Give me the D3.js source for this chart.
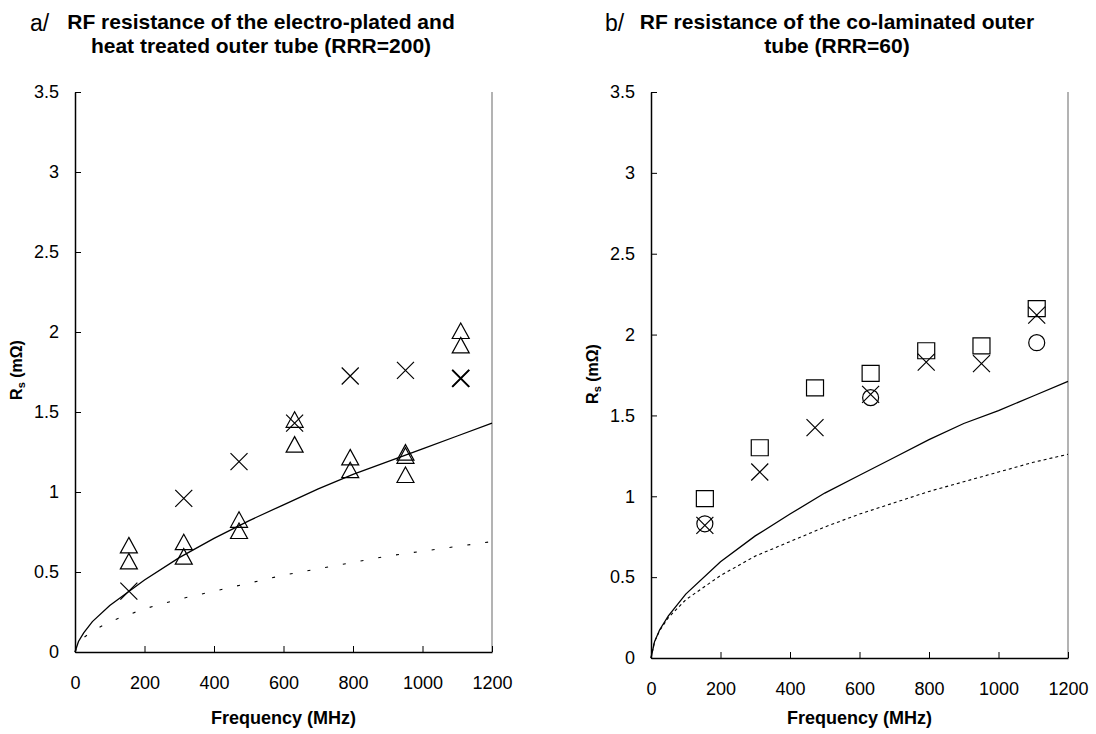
<!DOCTYPE html>
<html>
<head>
<meta charset="utf-8">
<script src="https://cdn.jsdelivr.net/npm/d3@7"></script>
<style>
  body { margin: 0; background: #fff; }
  svg { font-family: "Liberation Sans", Arial, sans-serif; }
</style>
</head>
<body>
<svg id="chart" width="1096" height="734"></svg>
<script>
// measured frequencies (MHz), same for both tubes
var freqs = [155, 313, 472, 632, 792, 951, 1110];

// a/ electro-plated tube (RRR=200)
var aTriUpper = [0.66, 0.68, 0.82, 1.445, 1.21, 1.24, 2.00];
var aTriLower = [0.56, 0.59, 0.75, 1.29, 1.13, 1.10, 1.91];
var aTriExtra = [null, null, null, null, null, 1.22, null];
var aCross    = [0.38, 0.96, 1.19, 1.43, 1.725, 1.76, 1.71];
var aCrossBold = [null, null, null, null, null, null, 1.71];

// b/ co-laminated tube (RRR=60)
var bSquare = [0.985, 1.30, 1.67, 1.76, 1.90, 1.93, 2.16];
var bCross  = [0.82, 1.15, 1.425, 1.63, 1.83, 1.82, 2.12];
var bCircle = [0.83, null, null, 1.61, null, null, 1.95];

// theory curves
var curveFreq = [0, 10, 25, 50, 100, 200, 300, 400, 500, 600, 700, 800, 900, 1000, 1100, 1200];
var aSolid  = [0, 0.066, 0.12, 0.19, 0.29, 0.45, 0.59, 0.71, 0.82, 0.92, 1.02, 1.11, 1.19, 1.27, 1.35, 1.43];
var aDotted = [0, 0.05, 0.09, 0.13, 0.19, 0.27, 0.33, 0.38, 0.43, 0.48, 0.52, 0.56, 0.60, 0.63, 0.66, 0.69];
var bSolid  = [0, 0.10, 0.175, 0.26, 0.395, 0.595, 0.755, 0.89, 1.02, 1.13, 1.24, 1.35, 1.45, 1.53, 1.62, 1.71];
var bDotted = [0, 0.10, 0.17, 0.25, 0.36, 0.51, 0.63, 0.72, 0.81, 0.89, 0.96, 1.03, 1.09, 1.15, 1.21, 1.26];

var xTicks = [0, 200, 400, 600, 800, 1000, 1200];
var yTicks = [0, 0.5, 1, 1.5, 2, 2.5, 3, 3.5];

var svg = d3.select("#chart");

function pairs(vals) { // join values with frequencies, skip gaps
  return freqs.map(function(f, i){ return [f, vals[i]]; })
    .filter(function(d){ return d[1] != null; });
}

function drawPanel(p) {
  var x = d3.scaleLinear().domain([0, 1200]).range([p.left, p.right]);
  var y = d3.scaleLinear().domain([0, 3.5]).range([p.bottom, p.top]);
  var g = svg.append("g");

  // right border of plot area
  g.append("line").attr("x1", p.right).attr("x2", p.right)
    .attr("y1", p.top).attr("y2", p.bottom)
    .attr("stroke", "#808080").attr("stroke-width", 1.2);

  var xAxis = g.append("g").attr("transform", "translate(0," + p.bottom + ")")
    .call(d3.axisBottom(x).tickValues(xTicks).tickSizeInner(-6).tickSizeOuter(0).tickPadding(24)
      .tickFormat(d3.format("d")));
  var yAxis = g.append("g").attr("transform", "translate(" + p.left + ",0)")
    .call(d3.axisLeft(y).tickValues(yTicks).tickSizeInner(-6).tickSizeOuter(0).tickPadding(16)
      .tickFormat(d3.format("")));
  [xAxis, yAxis].forEach(function(a){
    a.select(".domain").attr("stroke", "#000").attr("stroke-width", 1.5);
    a.selectAll(".tick line").attr("stroke", "#000");
    a.selectAll(".tick text").attr("font-size", 18).attr("fill", "#000")
      .attr("font-family", "Liberation Sans, Arial, sans-serif");
  });

  // curves
  var line = d3.line().x(function(d){ return x(d[0]); }).y(function(d){ return y(d[1]); });
  g.append("path").datum(curveFreq.map(function(f, i){ return [f, p.dotted[i]]; }))
    .attr("d", line).attr("fill", "none").attr("stroke", "#000")
    .attr("stroke-width", 1.1).attr("stroke-dasharray", p.dash);
  g.append("path").datum(curveFreq.map(function(f, i){ return [f, p.solid[i]]; }))
    .attr("d", line).attr("fill", "none").attr("stroke", "#000").attr("stroke-width", 1.3);

  // markers
  p.markers.forEach(function(m) {
    g.append("g").selectAll("path").data(pairs(m.vals)).enter().append("path")
      .attr("transform", function(d){ return "translate(" + x(d[0]) + "," + y(d[1]) + ")"; })
      .attr("fill", "none").attr("stroke", "#000").attr("stroke-width", m.width || 1.2)
      .attr("d", markerPath(m.shape));
  });

  // axis titles
  g.append("text").attr("x", (p.left + p.right) / 2).attr("y", p.xLabelY)
    .attr("text-anchor", "middle").attr("font-weight", "bold").attr("font-size", 18)
    .text("Frequency (MHz)");
  var yl = g.append("text").attr("transform", "translate(" + p.yLabelX + "," + p.yLabelMid + ") rotate(-90)")
    .attr("text-anchor", "middle").attr("font-weight", "bold").attr("font-size", 16);
  yl.append("tspan").text("R");
  yl.append("tspan").attr("font-size", 11).attr("dy", 3).text("s");
  yl.append("tspan").attr("dy", -3).text(" (m\u03A9)");

  // chart title
  svg.append("text").attr("x", p.tagX).attr("y", 31).attr("font-size", 23).text(p.tag);
  p.title.forEach(function(t, i){
    svg.append("text").attr("x", p.titleMid).attr("y", 29 + i * 24)
      .attr("text-anchor", "middle").attr("font-weight", "bold").attr("font-size", 21).text(t);
  });
}

function markerPath(shape) {
  var pth = d3.path();
  if (shape === "tri") {
    pth.moveTo(0, -9); pth.lineTo(8.5, 6.5); pth.lineTo(-8.5, 6.5); pth.closePath();
  } else if (shape === "x") {
    pth.moveTo(-8.5, -8.5); pth.lineTo(8.5, 8.5); pth.moveTo(8.5, -8.5); pth.lineTo(-8.5, 8.5);
  } else if (shape === "sq") {
    pth.rect(-8.5, -8, 17, 16);
  } else if (shape === "circ") {
    pth.moveTo(8, 0); pth.arc(0, 0, 8, 0, 2 * Math.PI);
  }
  return pth.toString();
}

drawPanel({
  left: 75, right: 492, top: 92, bottom: 652,
  solid: aSolid, dotted: aDotted, dash: "3,15",
  markers: [
    {shape: "tri", vals: aTriUpper}, {shape: "tri", vals: aTriLower},
    {shape: "tri", vals: aTriExtra}, {shape: "x", vals: aCross},
    {shape: "x", vals: aCrossBold, width: 2}
  ],
  xLabelY: 724, yLabelX: 22, yLabelMid: 370,
  tag: "a/", tagX: 30, titleMid: 261,
  title: ["RF resistance of the electro-plated and", "heat treated outer tube (RRR=200)"]
});

drawPanel({
  left: 651, right: 1068, top: 92, bottom: 658,
  solid: bSolid, dotted: bDotted, dash: "3,3",
  markers: [
    {shape: "sq", vals: bSquare}, {shape: "x", vals: bCross}, {shape: "circ", vals: bCircle}
  ],
  xLabelY: 724, yLabelX: 598, yLabelMid: 374,
  tag: "b/", tagX: 605, titleMid: 837,
  title: ["RF resistance of the co-laminated outer", "tube (RRR=60)"]
});
</script>
</body>
</html>
